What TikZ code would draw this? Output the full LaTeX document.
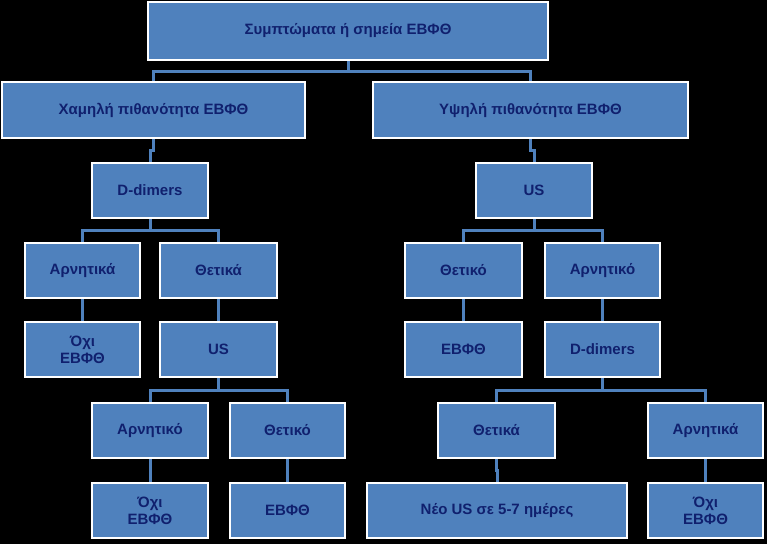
\documentclass[tikz,border=0pt]{standalone}
\usepackage{fontspec}
\setmainfont{Liberation Sans}
\usetikzlibrary{calc}
\definecolor{boxblue}{HTML}{4F81BD}
\definecolor{navy}{HTML}{10206E}

\begin{document}
\begin{tikzpicture}[x=1pt,y=-1pt,
  box/.style={rectangle,draw=white,line width=2pt,fill=boxblue,text=navy,
    font=\bfseries\fontsize{15}{17}\selectfont,align=center,inner sep=0pt},
  link/.style={draw=boxblue,line width=3pt}
]

\fill[black] (0,0) rectangle (767,544);
\useasboundingbox (0,0) rectangle (767,544);

% #1 name, #2 x1, #3 y1, #4 x2, #5 y2, #6 text
\def\bx#1(#2,#3,#4,#5)#6;{
  \node[box,minimum width=#4-#2,minimum height=#5-#3] (#1) at ({(#2+#4)/2},{(#3+#5)/2}) {#6};
}
\def\lnk#1-#2;{
  \draw[link] (#1.south) -- ($(#1.south)!.5!(#1.south |- #2.north)$) -| (#2.north);
}

\bx top(148,2,548,60){Συμπτώματα ή σημεία ΕΒΦΘ};
\bx low(2,82,305,138){Χαμηλή πιθανότητα ΕΒΦΘ};
\bx high(373,82,688,138){Υψηλή πιθανότητα ΕΒΦΘ};

\bx ddl(92,163,208,218){D-dimers};
\bx usr(476,163,592,218){US};

\bx negl(25,243,140,298){Αρνητικά};
\bx posl(160,243,277,298){Θετικά};
\bx posr(405,243,522,298){Θετικό};
\bx negr(545,243,660,298){Αρνητικό};

\bx nol(25,322,140,377){Όχι\\ΕΒΦΘ};
\bx usl(160,322,277,377){US};
\bx yesr(405,322,522,377){ΕΒΦΘ};
\bx ddr(545,322,660,377){D-dimers};

\bx negll(92,403,208,458){Αρνητικό};
\bx posll(230,403,345,458){Θετικό};
\bx posrr(438,403,555,458){Θετικά};
\bx negrr(648,403,763,458){Αρνητικά};

\bx noll(92,483,208,538){Όχι\\ΕΒΦΘ};
\bx yesll(230,483,345,538){ΕΒΦΘ};
\bx newus(367,483,627,538){Νέο US σε 5-7 ημέρες};
\bx norr(648,483,763,538){Όχι\\ΕΒΦΘ};

\lnk top-low; \lnk top-high;
\lnk low-ddl; \lnk high-usr;
\lnk ddl-negl; \lnk ddl-posl;
\lnk usr-posr; \lnk usr-negr;
\lnk negl-nol; \lnk posl-usl;
\lnk posr-yesr; \lnk negr-ddr;
\lnk usl-negll; \lnk usl-posll;
\lnk ddr-posrr; \lnk ddr-negrr;
\lnk negll-noll; \lnk posll-yesll;
\lnk posrr-newus; \lnk negrr-norr;

\end{tikzpicture}
\end{document}
